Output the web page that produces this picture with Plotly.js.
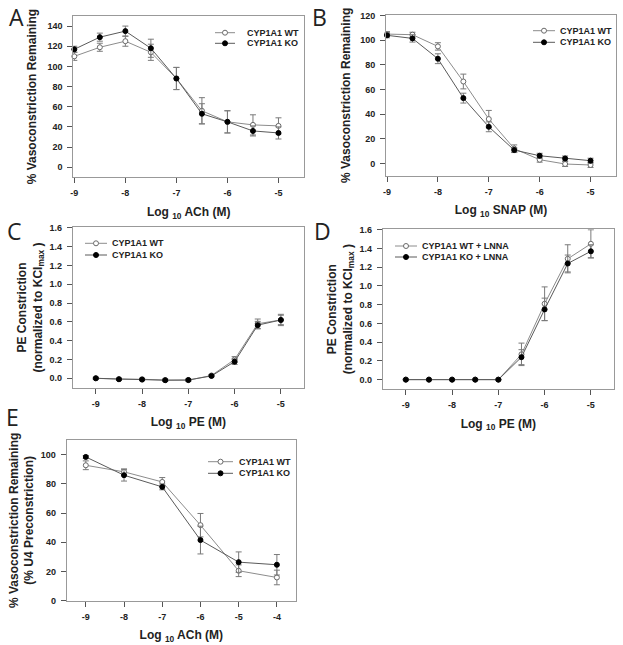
<!DOCTYPE html>
<html>
<head>
<meta charset="utf-8">
<script src="https://cdn.plot.ly/plotly-3.0.1.min.js"></script>
<style>
html, body { margin: 0; padding: 0; background: #fff; }
#chart { width: 623px; height: 645px; }
</style>
</head>
<body>
<div id="chart"></div>
<script>
// log10 concentrations (M)
const concNine = [-9, -8.5, -8, -7.5, -7, -6.5, -6, -5.5, -5];
const concSix = [-9, -8, -7, -6, -5, -4];
const xTicksNine = [-9, -8, -7, -6, -5];
const xTicksSix = [-9, -8, -7, -6, -5, -4];

// A - ACh, % vasoconstriction remaining
const achWT = [110, 119, 125, 114, 88, 56, 45, 42, 41];
const achWTErr = [4, 4, 5, 8, 11, 13, 11, 10, 8];
const achKO = [117, 129, 135, 118, 88, 53, 45, 36, 34];
const achKOErr = [3, 4, 5, 9, 11, 10, 11, 5, 6];

// B - SNAP, % vasoconstriction remaining
const snapWT = [105, 104.5, 95, 66.5, 36, 12, 3, -0.5, -1.3];
const snapWTErr = [2, 2, 3, 6, 7, 3, 2, 2, 2];
const snapKO = [104, 101.5, 85, 53, 29.7, 10.8, 6.2, 4, 2.2];
const snapKOErr = [2, 3, 4, 4, 4, 2, 2, 2, 2];

// C - PE constriction (normalized to KClmax)
const peWT = [0.0, -0.01, -0.01, -0.02, -0.02, 0.03, 0.20, 0.58, 0.62];
const peWTErr = [0.01, 0.01, 0.01, 0.01, 0.01, 0.01, 0.03, 0.05, 0.06];
const peKO = [0.0, -0.01, -0.014, -0.02, -0.018, 0.025, 0.177, 0.565, 0.62];
const peKOErr = [0.01, 0.01, 0.01, 0.01, 0.01, 0.01, 0.03, 0.04, 0.05];

// D - PE constriction + LNNA
const lnnaWT = [0.0, 0.0, 0.0, 0.0, 0.0, 0.27, 0.81, 1.29, 1.45];
const lnnaWTErr = [0.005, 0.005, 0.005, 0.005, 0.005, 0.12, 0.18, 0.15, 0.15];
const lnnaKO = [0.0, 0.0, 0.0, 0.0, 0.0, 0.24, 0.75, 1.24, 1.37];
const lnnaKOErr = [0.005, 0.005, 0.005, 0.005, 0.005, 0.08, 0.12, 0.09, 0.07];

// E - ACh, % U4 preconstriction
const u4WT = [92.7, 88.2, 81.3, 51.7, 20.5, 15.9];
const u4WTErr = [3, 2, 3, 8, 4, 5];
const u4KO = [98.4, 85.9, 77.9, 41.5, 26.4, 24.6];
const u4KOErr = [1, 4, 2, 9.5, 7, 7];

const W = 623, H = 645;
const px = p => p / W;
const py = p => 1 - p / H;

const FONT = 'Liberation Sans, Arial, sans-serif';
const WT_LINE = '#8c8c8c';
const KO_LINE = '#5a5a5a';
const ERR_COLOR = '#7a7a7a';

function series(x, y, err, isKO, n) {
    const ax = n === 1 ? '' : n;
    return {
        x: x,
        y: y,
        error_y: { type: 'data', array: err, visible: true, color: ERR_COLOR, thickness: 1, width: 3 },
        type: 'scatter',
        mode: 'lines+markers',
        xaxis: 'x' + ax,
        yaxis: 'y' + ax,
        cliponaxis: false,
        showlegend: false,
        line: { color: isKO ? KO_LINE : WT_LINE, width: 1 },
        marker: {
            symbol: 'circle',
            size: 5,
            color: isKO ? '#000' : '#fff',
            line: { color: isKO ? '#000' : '#6a6a6a', width: 1 }
        }
    };
}

function xAxis(x0, x1, range, ticks, anchor, title) {
    return {
        domain: [px(x0), px(x1)],
        range: range,
        anchor: anchor,
        tickvals: ticks,
        ticktext: ticks.map(String),
        showline: true, mirror: true, linecolor: '#999', linewidth: 1,
        ticks: 'outside', ticklen: 5, tickcolor: '#555',
        showgrid: false, zeroline: false,
        ticklabelstandoff: 2,
        tickfont: { family: FONT, size: 9, color: '#222', weight: 'bold' },
        title: { text: title, standoff: 10, font: { family: FONT, size: 12, color: '#222', weight: 'bold' } }
    };
}

function yAxis(top, bottom, range, dtick, fmt, anchor, title, standoff) {
    return {
        domain: [py(bottom), py(top)],
        range: range,
        anchor: anchor,
        dtick: dtick,
        tick0: 0,
        tickformat: fmt,
        showline: true, mirror: true, linecolor: '#999', linewidth: 1,
        ticks: 'outside', ticklen: 5, tickcolor: '#555',
        showgrid: false, zeroline: false,
        ticklabelstandoff: 3,
        tickfont: { family: FONT, size: 9, color: '#222', weight: 'bold' },
        title: { text: title, standoff: standoff, font: { family: FONT, size: 12, color: '#222', weight: 'bold' } }
    };
}

const data = [
    series(concNine, achWT, achWTErr, false, 1),
    series(concNine, achKO, achKOErr, true, 1),
    series(concNine, snapWT, snapWTErr, false, 2),
    series(concNine, snapKO, snapKOErr, true, 2),
    series(concNine, peWT, peWTErr, false, 3),
    series(concNine, peKO, peKOErr, true, 3),
    series(concNine, lnnaWT, lnnaWTErr, false, 4),
    series(concNine, lnnaKO, lnnaKOErr, true, 4),
    series(concSix, u4WT, u4WTErr, false, 5),
    series(concSix, u4KO, u4KOErr, true, 5)
];

const shapes = [];
const annotations = [];

// hand-drawn legend, rows tighter than plotly's built-in legend allows
function legend(lx0, lx1, tx, rows, labels) {
    rows.forEach((ry, i) => {
        const isKO = i === 1;
        const mx = (lx0 + lx1) / 2;
        shapes.push({
            type: 'line', xref: 'paper', yref: 'paper',
            x0: px(lx0), x1: px(lx1), y0: py(ry), y1: py(ry),
            line: { color: isKO ? KO_LINE : WT_LINE, width: 1 }
        });
        shapes.push({
            type: 'circle', xref: 'paper', yref: 'paper',
            x0: px(mx - 2.5), x1: px(mx + 2.5), y0: py(ry + 2.5), y1: py(ry - 2.5),
            fillcolor: isKO ? '#000' : '#fff',
            line: { color: isKO ? '#000' : '#6a6a6a', width: 1 }
        });
        annotations.push({
            xref: 'paper', yref: 'paper', x: px(tx), y: py(ry),
            xanchor: 'left', yanchor: 'middle', showarrow: false,
            text: labels[i],
            font: { family: FONT, size: 9, color: '#222', weight: 'bold' }
        });
    });
}

legend(215, 235, 245, [32.7, 43.3], ['CYP1A1 WT', 'CYP1A1 KO']);
legend(533, 555, 558, [30.7, 42.3], ['CYP1A1 WT', 'CYP1A1 KO']);
legend(85, 107, 110, [243.3, 255], ['CYP1A1 WT', 'CYP1A1 KO']);
legend(395, 417, 420, [246, 257], ['CYP1A1 WT + LNNA', 'CYP1A1 KO + LNNA']);
legend(208, 233, 237, [461.7, 473.3], ['CYP1A1 WT', 'CYP1A1 KO']);

// panel letters
[['A', 16, 17], ['B', 320, 17], ['C', 14, 231], ['D', 322, 231], ['E', 12, 417]].forEach(([t, x, y]) => {
    annotations.push({
        xref: 'paper', yref: 'paper', x: px(x), y: py(y),
        xanchor: 'center', yanchor: 'middle', showarrow: false,
        text: t, font: { family: 'Open Sans, Noto Sans, sans-serif', size: 23, color: '#222' }
    });
});

const layout = {
    width: W,
    height: H,
    margin: { t: 0, r: 0, b: 0, l: 0 },
    paper_bgcolor: '#fff',
    plot_bgcolor: '#fff',
    showlegend: false,
    font: { family: FONT, color: '#222' },
    xaxis: xAxis(73.3, 304, [-9.02, -4.5], xTicksNine, 'y', 'Log <sub>10</sub> ACh (M)'),
    yaxis: yAxis(16, 177.3, [-10, 150], 20, '', 'x', '% Vasoconstriction Remaining', 8),
    xaxis2: xAxis(386, 616, [-9.02, -4.5], xTicksNine, 'y2', 'Log <sub>10</sub> SNAP (M)'),
    yaxis2: yAxis(15, 175.7, [-10, 120.5], 20, '', 'x2', '% Vasoconstriction Remaining', 6),
    xaxis3: xAxis(72.7, 304, [-9.5, -4.5], xTicksNine, 'y3', 'Log <sub>10</sub> PE (M)'),
    yaxis3: yAxis(227.3, 387.7, [-0.1, 1.605], 0.2, '.1f', 'x3', 'PE Constriction<br>(normalized to KCl<sub>max</sub> )', 4),
    xaxis4: xAxis(382.7, 614, [-9.5, -4.5], xTicksNine, 'y4', 'Log <sub>10</sub> PE (M)'),
    yaxis4: yAxis(229.3, 389, [-0.1, 1.605], 0.2, '.1f', 'x4', 'PE Constriction<br>(normalized to KCl<sub>max</sub> )', 4),
    xaxis5: xAxis(66.7, 296, [-9.5, -3.5], xTicksSix, 'y5', 'Log <sub>10</sub> ACh (M)'),
    yaxis5: yAxis(440, 600.7, [0, 110], 20, '', 'x5', '% Vasoconstriction Remaining<br>(% U4 Preconstriction)', 4),
    shapes: shapes,
    annotations: annotations
};

Plotly.newPlot('chart', data, layout, { displayModeBar: false, staticPlot: true });
</script>
</body>
</html>
